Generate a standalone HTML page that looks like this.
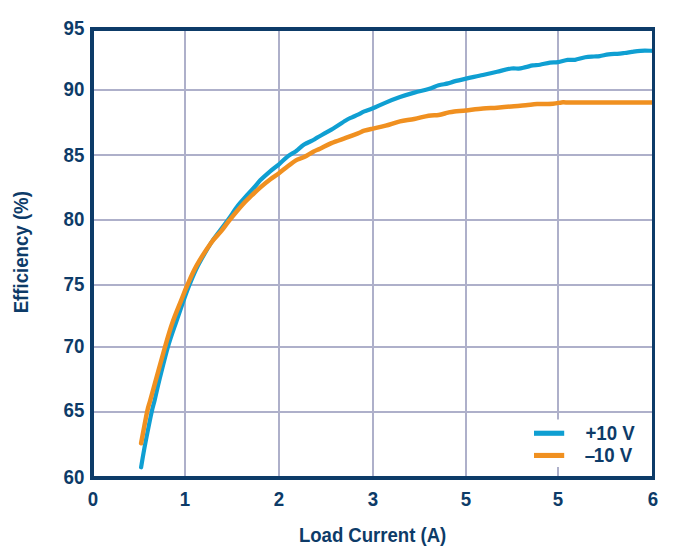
<!DOCTYPE html>
<html lang="en"><head><meta charset="utf-8"><title>Efficiency vs Load Current</title>
<style>html,body{margin:0;padding:0;background:#fff}svg{display:block}text{font-family:"Liberation Sans",sans-serif;font-weight:700;font-size:20px;fill:#0d3b68}</style></head><body>
<svg width="686" height="554" viewBox="0 0 686 554">
<rect width="686" height="554" fill="#fff"/>
<g fill="#aeb0ca">
<rect x="92" y="89" width="562" height="2"/>
<rect x="92" y="154" width="562" height="2"/>
<rect x="92" y="219" width="562" height="2"/>
<rect x="92" y="284" width="562" height="2"/>
<rect x="92" y="346" width="562" height="2"/>
<rect x="92" y="411" width="562" height="2"/>
<rect x="184" y="29" width="2" height="449"/>
<rect x="278" y="29" width="2" height="449"/>
<rect x="372" y="29" width="2" height="449"/>
<rect x="465" y="29" width="2" height="449"/>
<rect x="557" y="29" width="2" height="449"/>
</g>
<rect x="526" y="419.5" width="124" height="47.5" fill="#fff"/>
<clipPath id="plotclip"><rect x="92" y="29" width="561" height="449"/></clipPath>
<g fill="none" stroke-linecap="round" stroke-linejoin="round" clip-path="url(#plotclip)">
<path d="M141.1 467.3C141.8 463.2 143.6 452.1 145.4 442.9C147.2 433.7 150.1 419.0 151.7 411.9C153.2 404.8 153.4 405.5 154.7 400.0C156.0 394.5 157.4 387.9 159.6 379.1C161.8 370.3 165.2 356.4 167.9 347.0C170.6 337.6 173.4 330.1 176.0 322.5C178.6 314.9 181.2 307.4 183.4 301.1C185.6 294.9 187.0 290.9 189.4 285.0C191.8 279.1 194.5 272.4 198.1 265.4C201.7 258.4 207.4 248.8 211.0 243.0C214.6 237.2 216.9 234.7 219.7 230.9C222.5 227.1 224.8 224.2 227.9 220.0C231.0 215.8 234.9 209.5 238.1 205.4C241.3 201.3 244.0 198.6 247.0 195.2C250.0 191.8 254.1 187.5 256.3 185.0C258.5 182.5 257.9 182.6 260.2 180.3C262.5 178.0 267.3 173.8 270.4 171.1C273.5 168.4 276.1 166.8 279.0 164.3C281.9 161.8 285.0 158.5 287.8 156.3C290.6 154.1 293.2 153.1 295.9 151.2C298.6 149.2 301.2 146.5 304.1 144.6C307.0 142.7 311.1 141.2 313.3 140.0C315.5 138.8 314.1 139.3 317.1 137.6C320.1 135.9 326.6 132.4 331.4 129.6C336.2 126.8 342.3 122.5 345.7 120.5C349.1 118.5 349.9 118.3 352.0 117.3C354.1 116.3 355.9 115.6 358.0 114.6C360.1 113.6 361.8 112.5 364.3 111.4C366.8 110.4 369.3 109.8 372.9 108.3C376.5 106.8 381.2 104.5 385.7 102.6C390.2 100.7 395.2 98.8 400.0 97.1C404.8 95.4 409.5 93.9 414.3 92.6C419.1 91.2 424.6 90.2 428.6 89.0C432.7 87.8 435.4 86.2 438.6 85.3C441.8 84.4 445.4 84.1 448.0 83.4C450.6 82.8 451.3 82.2 454.3 81.4C457.3 80.6 461.2 79.7 466.0 78.6C470.8 77.5 477.7 76.2 482.9 75.0C488.1 73.8 492.4 72.8 497.1 71.7C501.9 70.6 507.8 69.0 511.4 68.5C515.0 68.0 516.2 68.8 518.6 68.6C521.0 68.4 523.3 67.6 525.7 67.1C528.1 66.6 530.5 65.8 532.9 65.4C535.3 65.0 537.1 65.2 540.0 64.7C542.9 64.2 547.0 63.0 550.0 62.6C553.0 62.2 555.0 62.6 558.0 62.1C561.0 61.6 564.9 60.3 567.7 59.9C570.5 59.5 572.1 60.2 575.0 59.8C577.9 59.4 582.1 57.8 585.2 57.3C588.4 56.8 591.5 56.7 593.9 56.5C596.3 56.3 597.3 56.5 599.7 56.1C602.1 55.8 605.6 54.8 608.5 54.4C611.4 54.0 614.5 54.0 617.2 53.8C619.9 53.6 622.1 53.3 624.5 53.0C626.9 52.7 629.1 52.3 631.8 51.9C634.5 51.5 637.0 51.0 640.5 50.8C644.0 50.6 650.9 50.8 653.0 50.8" stroke="#0f9fd2" stroke-width="4.2"/>
<path d="M141.1 443.3C142.1 438.1 145.6 419.0 147.1 411.9C148.6 404.8 148.7 406.0 150.2 400.5C151.7 395.0 153.6 388.0 156.1 379.1C158.6 370.2 162.3 356.4 165.0 347.0C167.7 337.6 169.8 330.1 172.5 322.5C175.2 314.9 178.4 307.4 180.9 301.1C183.4 294.9 184.8 290.9 187.4 285.0C190.0 279.1 192.8 272.4 196.7 265.4C200.6 258.4 206.9 248.8 211.0 243.0C215.1 237.2 218.3 234.7 221.4 230.9C224.5 227.1 226.2 224.2 229.6 220.0C233.0 215.8 238.1 209.5 241.8 205.4C245.5 201.3 248.8 198.3 252.0 195.2C255.2 192.1 257.9 189.6 261.0 186.9C264.1 184.2 267.4 181.6 270.4 179.3C273.4 177.0 276.1 175.4 279.0 173.2C281.9 171.0 285.0 168.4 287.8 166.3C290.6 164.2 293.2 161.9 295.9 160.4C298.6 158.9 301.2 158.6 304.1 157.1C307.0 155.6 310.7 153.1 313.3 151.7C315.9 150.3 317.0 150.1 320.0 148.7C323.0 147.3 327.1 144.9 331.4 143.1C335.7 141.3 341.3 139.5 345.7 137.9C350.1 136.3 354.9 134.5 358.0 133.3C361.1 132.1 361.8 131.5 364.3 130.7C366.8 129.9 369.3 129.4 372.9 128.6C376.5 127.8 381.2 126.9 385.7 125.7C390.2 124.5 395.2 122.5 400.0 121.4C404.8 120.3 409.5 120.0 414.3 119.0C419.1 118.0 424.6 116.4 428.6 115.7C432.7 115.0 435.4 115.5 438.6 115.0C441.8 114.5 445.4 113.2 448.0 112.6C450.6 112.0 451.3 111.8 454.3 111.4C457.3 111.0 461.2 110.9 466.0 110.4C470.8 109.9 477.7 109.0 482.9 108.6C488.1 108.1 492.4 108.1 497.1 107.7C501.9 107.3 506.6 106.8 511.4 106.4C516.2 106.0 521.4 105.7 525.7 105.3C530.0 104.9 532.6 104.4 537.1 104.1C541.6 103.8 548.9 104.0 553.0 103.7C557.1 103.4 559.3 102.6 561.5 102.4C563.7 102.2 562.9 102.4 566.0 102.4C569.1 102.4 571.0 102.4 580.0 102.4C589.0 102.4 607.8 102.4 620.0 102.4C632.2 102.4 647.5 102.4 653.0 102.4" stroke="#f09020" stroke-width="4.5"/>
</g>
<g fill="#0d3b68"><rect x="90" y="27" width="565" height="4"/><rect x="90" y="476" width="565" height="4"/><rect x="90" y="27" width="4" height="453"/><rect x="652" y="27" width="3" height="453"/></g>
<rect x="534" y="430.7" width="30.2" height="5.1" fill="#0f9fd2"/>
<rect x="534" y="452.9" width="30.2" height="5.1" fill="#f09020"/>
<text transform="translate(585.4 439.8) scale(0.935 1)">+10 V</text>
<text transform="translate(584.8 462.1) scale(0.935 1)">–<tspan dx="-1.5">10 V</tspan></text>
<text transform="translate(84.4 34.9) scale(0.935 1)" text-anchor="end">95</text>
<text transform="translate(84.4 95.6) scale(0.935 1)" text-anchor="end">90</text>
<text transform="translate(84.4 161.6) scale(0.935 1)" text-anchor="end">85</text>
<text transform="translate(84.4 225.6) scale(0.935 1)" text-anchor="end">80</text>
<text transform="translate(84.4 290.7) scale(0.935 1)" text-anchor="end">75</text>
<text transform="translate(84.4 352.7) scale(0.935 1)" text-anchor="end">70</text>
<text transform="translate(84.4 416.7) scale(0.935 1)" text-anchor="end">65</text>
<text transform="translate(84.4 483.7) scale(0.935 1)" text-anchor="end">60</text>
<text transform="translate(93.0 506.0) scale(0.935 1)" text-anchor="middle">0</text>
<text transform="translate(185.0 506.0) scale(0.935 1)" text-anchor="middle">1</text>
<text transform="translate(279.0 506.0) scale(0.935 1)" text-anchor="middle">2</text>
<text transform="translate(373.0 506.0) scale(0.935 1)" text-anchor="middle">3</text>
<text transform="translate(466.0 506.0) scale(0.935 1)" text-anchor="middle">5</text>
<text transform="translate(558.0 506.0) scale(0.935 1)" text-anchor="middle">5</text>
<text transform="translate(653.0 506.0) scale(0.935 1)" text-anchor="middle">6</text>
<text transform="translate(298.9 541.9) scale(0.928 1)">Load Current (A)</text>
<text transform="translate(27.6 252.2) rotate(-90) scale(0.932 1)" text-anchor="middle">Efficiency (%)</text>
</svg></body></html>
